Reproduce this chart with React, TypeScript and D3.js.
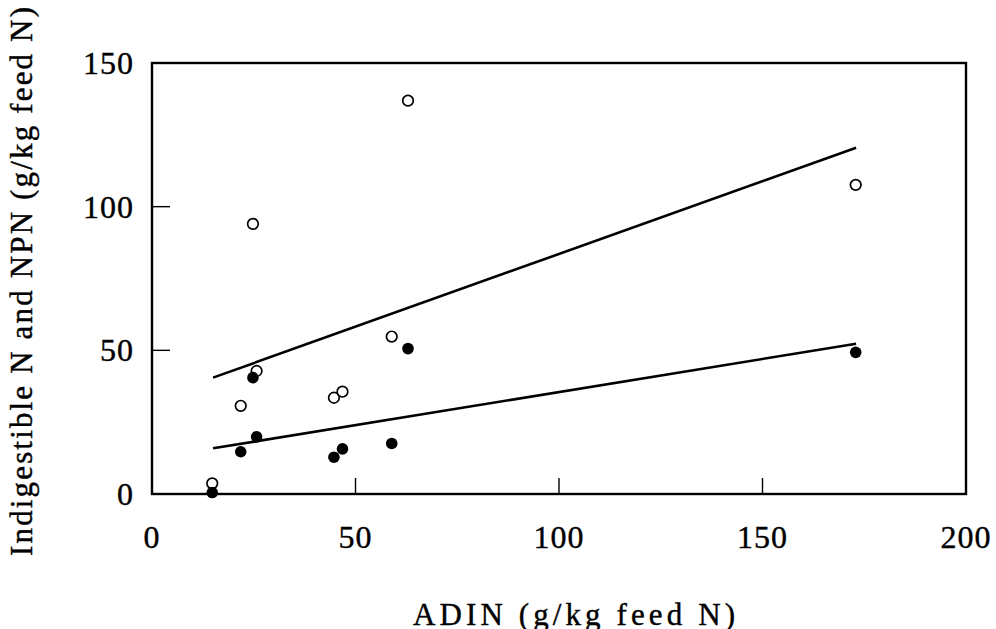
import React from "react";
import * as d3 from "d3";

const xTicks = [0, 50, 100, 150, 200];
const yTicks = [0, 50, 100, 150];

// ADIN values (g/kg feed N)
const adin = [14.8, 21.8, 24.8, 25.7, 44.7, 46.8, 58.9, 62.9, 172.9];
// Indigestible N (filled circles)
const indigestibleN = [0.5, 14.7, 40.5, 19.9, 12.8, 15.7, 17.6, 50.6, 49.3];
// NPN (open circles)
const npn = [3.7, 30.7, 94.0, 42.8, 33.5, 35.6, 54.8, 136.9, 107.6];

// fitted regression lines (endpoints)
const npnFit = [
  [15, 40.5],
  [173, 120.5],
];
const indFit = [
  [15, 15.9],
  [173, 52.3],
];

const W = 996;
const H = 629;
const M = { left: 152, right: 966, top: 63, bottom: 494 };
const FONT = "'Liberation Serif', 'Times New Roman', serif";

export default function App() {
  const x = d3.scaleLinear().domain([0, 200]).range([M.left, M.right]);
  const y = d3.scaleLinear().domain([0, 150]).range([M.bottom, M.top]);
  const line = d3
    .line<number[]>()
    .x((d) => x(d[0]))
    .y((d) => y(d[1]));
  const tickLen = 16;

  return (
    <svg
      width={W}
      height={H}
      style={{ position: "absolute", left: 0, top: 0, background: "#fff" }}
    >
      <rect x={0} y={0} width={W} height={H} fill="#fff" />
      {/* frame */}
      <rect
        x={M.left}
        y={M.top}
        width={M.right - M.left}
        height={M.bottom - M.top}
        fill="none"
        stroke="#000"
        strokeWidth={2.4}
      />
      {/* x ticks */}
      {xTicks
        .filter((t) => t > 0 && t < 200)
        .map((t) => (
          <line
            key={"xt" + t}
            x1={x(t)}
            x2={x(t)}
            y1={M.bottom}
            y2={M.bottom - tickLen}
            stroke="#000"
            strokeWidth={1.4}
          />
        ))}
      {yTicks
        .filter((t) => t > 0 && t < 150)
        .map((t) => (
          <line
            key={"yt" + t}
            x1={M.left}
            x2={M.left + tickLen + 2}
            y1={y(t)}
            y2={y(t)}
            stroke="#000"
            strokeWidth={1.4}
          />
        ))}
      {/* tick labels */}
      {xTicks.map((t) => (
        <text
          key={"xl" + t}
          x={x(t)}
          y={548}
          textAnchor="middle"
          fontFamily={FONT}
          fontSize={32}
          letterSpacing={1}
          stroke="#000"
          strokeWidth={0.4}
        >
          {t}
        </text>
      ))}
      {yTicks.map((t) => (
        <text
          key={"yl" + t}
          x={134}
          y={y(t) + 11}
          textAnchor="end"
          fontFamily={FONT}
          fontSize={32}
          letterSpacing={1}
          stroke="#000"
          strokeWidth={0.4}
        >
          {t}
        </text>
      ))}
      {/* regression lines */}
      <path d={line(npnFit) || ""} fill="none" stroke="#000" strokeWidth={2.6} />
      <path d={line(indFit) || ""} fill="none" stroke="#000" strokeWidth={2.6} />
      {/* points */}
      {adin.map((a, i) => (
        <circle
          key={"o" + i}
          cx={x(a)}
          cy={y(npn[i])}
          r={5.3}
          fill="#fff"
          stroke="#000"
          strokeWidth={1.7}
        />
      ))}
      {adin.map((a, i) => (
        <circle key={"f" + i} cx={x(a)} cy={y(indigestibleN[i])} r={5.8} fill="#000" />
      ))}
      {/* axis titles */}
      <text
        x={574}
        y={625}
        textAnchor="middle"
        fontFamily={FONT}
        fontSize={31}
        textLength={322}
        lengthAdjust="spacing"
        stroke="#000"
        strokeWidth={0.4}
      >
        ADIN (g/kg feed N)
      </text>
      <text
        transform={`translate(32, ${281.5}) rotate(-90)`}
        textAnchor="middle"
        fontFamily={FONT}
        fontSize={31}
        textLength={549}
        lengthAdjust="spacing"
        stroke="#000"
        strokeWidth={0.4}
      >
        Indigestible N and NPN (g/kg feed N)
      </text>
    </svg>
  );
}
